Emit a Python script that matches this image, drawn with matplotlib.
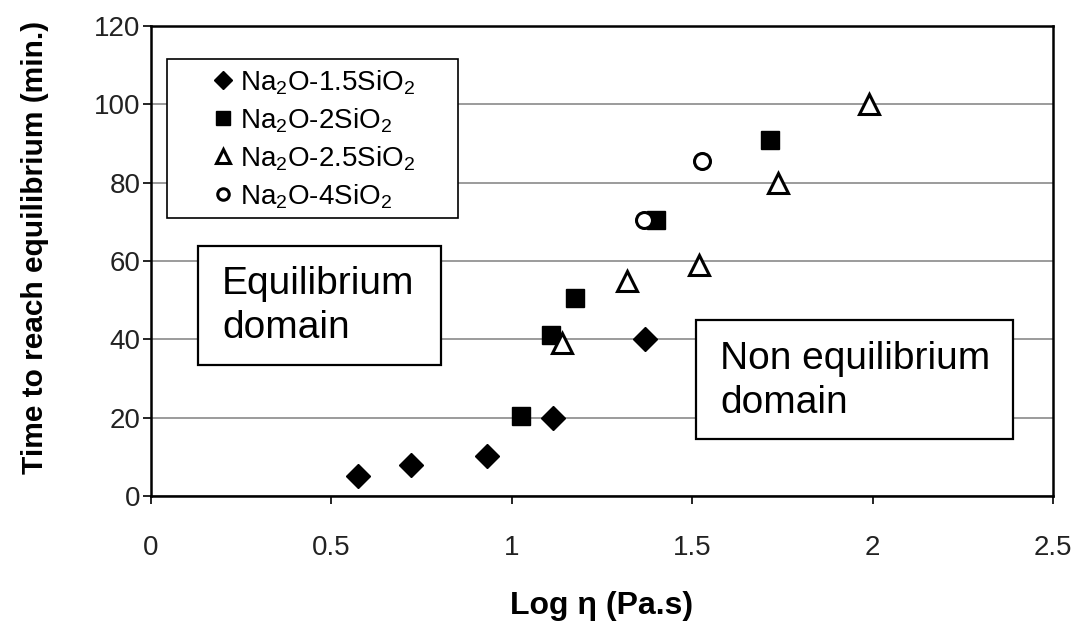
import matplotlib
matplotlib.use("Agg")
import matplotlib.pyplot as plt
from matplotlib.patches import Rectangle

plt.rcParams['font.family'] = ['Liberation Sans', 'DejaVu Sans']
plt.rcParams['mathtext.default'] = 'regular'

# Data
x_15 = [0.575, 0.72, 0.932, 1.113, 1.37]
y_15 = [5, 8, 10.3, 20, 40]
x_20 = [1.025, 1.108, 1.176, 1.40, 1.716]
y_20 = [20.5, 41, 50.5, 70.5, 91]
x_25 = [1.14, 1.318, 1.519, 1.739, 1.991]
y_25 = [39, 55, 59, 80, 100]
x_40 = [1.366, 1.526]
y_40 = [70.5, 85.5]
labels = ['Na$_2$O-1.5SiO$_2$', 'Na$_2$O-2SiO$_2$', 'Na$_2$O-2.5SiO$_2$', 'Na$_2$O-4SiO$_2$']
xticks = [0, 0.5, 1, 1.5, 2, 2.5]
xticklabels = ['0', '0.5', '1', '1.5', '2', '2.5']
yticks = [0, 20, 40, 60, 80, 100, 120]

fig = plt.figure(figsize=(10.82, 6.32), dpi=100)
ax = fig.add_axes([151/1082, 1-496/632, 902/1082, 470/632])

ax.set_xlim(0, 2.5)
ax.set_ylim(0, 120)
ax.set_xticks(xticks)
ax.set_xticklabels(xticklabels)
ax.set_yticks(yticks)
ax.tick_params(axis='both', labelsize=20, labelcolor='#222222', direction='out', length=6, width=1.2)
ax.tick_params(axis='x', pad=22)
ax.tick_params(axis='y', pad=1.5)
for s in ax.spines.values():
    s.set_linewidth(1.8)
ax.yaxis.grid(True, color='#808080', linewidth=1.1)
ax.set_axisbelow(True)

ax.plot(x_15, y_15, linestyle='none', marker='D', ms=12.5, color='black', label=labels[0], zorder=3)
ax.plot(x_20, y_20, linestyle='none', marker='s', ms=13.5, color='black', label=labels[1], zorder=3)
ax.plot(x_25, y_25, linestyle='none', marker='^', ms=14, mfc='white', mec='black', mew=2.2, label=labels[2], zorder=3)
ax.plot(x_40, y_40, linestyle='none', marker='o', ms=11.5, mfc='white', mec='black', mew=2.2, label=labels[3], zorder=4)

# legend box
ax.add_patch(Rectangle((0.0177, 0.591), 0.3226, 0.3383, transform=ax.transAxes,
                       facecolor='white', edgecolor='black', linewidth=1.2, zorder=5))
leg = ax.legend(loc='upper left', bbox_to_anchor=(0.06, 0.922), fontsize=20, frameon=False,
                borderpad=0.2, labelspacing=0.34, handletextpad=0.15, handlelength=0.9,
                markerscale=0.72, borderaxespad=0)
leg.set_zorder(6)

ax.set_xlabel('Log η (Pa.s)', fontsize=23, fontweight='bold', labelpad=22)
ax.set_ylabel('Time to reach equilibrium (min.)', fontsize=21.5, fontweight='bold')
ax.yaxis.set_label_coords(-0.113, 0.528)

# annotation boxes (axes fraction)
ax.add_patch(Rectangle((0.0521, 0.2787), 0.2694, 0.2532, transform=ax.transAxes,
                       facecolor='white', edgecolor='black', linewidth=1.6, zorder=5))
ax.text(0.0787, 0.404, 'Equilibrium\ndomain', transform=ax.transAxes, fontsize=28,
        va='center', ha='left', linespacing=1.3, zorder=6)
ax.add_patch(Rectangle((0.604, 0.1213), 0.352, 0.2532, transform=ax.transAxes,
                       facecolor='white', edgecolor='black', linewidth=1.6, zorder=5))
ax.text(0.631, 0.2447, 'Non equilibrium\ndomain', transform=ax.transAxes, fontsize=28,
        va='center', ha='left', linespacing=1.3, zorder=6)

fig.savefig('out.png', dpi=100)
